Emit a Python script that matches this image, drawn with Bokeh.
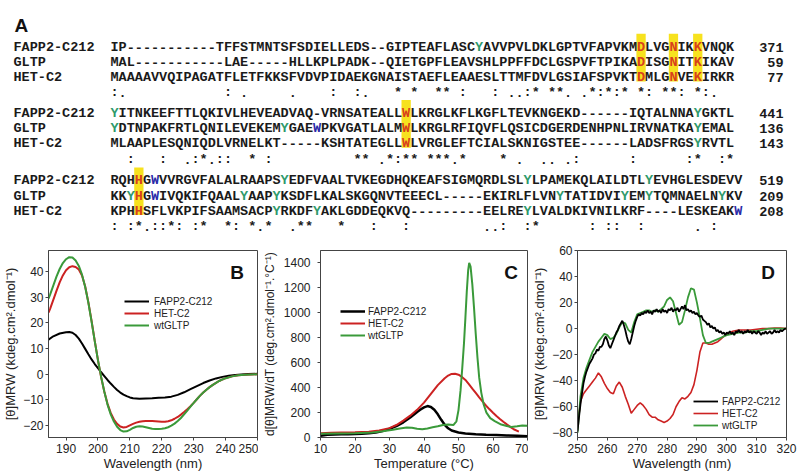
import numpy as np
from bokeh.plotting import figure
from bokeh.models import Range1d, Label, Legend, LegendItem, ColumnDataSource, FixedTicker
from bokeh.layouts import column, row
from bokeh.embed import file_html
from bokeh.resources import INLINE
from bokeh.core.properties import value

# ---------------- Panel A: sequence alignment ----------------
seq_names = ["FAPP2-C212", "GLTP", "HET-C2"]
block1 = [
    "IP" + "-" * 11 + "TFFSTMNTSFSDIELLEDS" + "--" + "GIPTEAFLASCYAVVPVLDKLGPTVFAPVKMDLVGNIKKVNQK",
    "MAL" + "-" * 11 + "LAE" + "-" * 5 + "HLLKPLPADK" + "--" + "QIETGPFLEAVSHLPPFFDCLGSPVFTPIKADISGNITKIKAV",
    "MAAAAVVQIPAGATFLETFKKSFVDVPIDAEKGNAISTAEFLEAAESLTTMFDVLGSIAFSPVKTDMLGNVEKIRKR",
]
block1_end = [371, 59, 77]
block2 = [
    "YITNKEEFTTLQKIVLHEVEADVAQ" + "-" + "VRNSATEALLWLKRGLKFLKGFLTEVKNGEKD" + "-" * 6 + "IQTALNNAYGKTL",
    "YDTNPAKFRTLQNILEVEKEMYGAEWPKVGATLALMWLKRGLRFIQVFLQSICDGERDENHPNLIRVNATKAYEMAL",
    "MLAAPLESQNIQDLVRNELKT" + "-" * 5 + "KSHTATEGLLWLVRGLEFTCIALSKNIGSTEE" + "-" * 6 + "LADSFRGSYRVTL",
]
block2_end = [441, 136, 143]
block3 = [
    "RQHHGWVVRGVFALALRAAPSYEDFVAALTVKEGDHQKEAFSIGMQRDLSLYLPAMEKQLAILDTLYEVHGLESDEVV",
    "KKYHGWIVQKIFQAALYAAPYKSDFLKALSKGQNVTEEECL" + "-" * 5 + "EKIRLFLVNYTATIDVIYEMYTQMNAELNYKV",
    "KPHHSFLVKPIFSAAMSACPYRKDFYAKLGDDEQKVQ" + "-" * 9 + "EELREYLVALDKIVNILKRF" + "-" * 4 + "LESKEAKW",
]
block3_end = [519, 209, 208]

# highlighted columns (yellow boxes) and coloured residues (row, column) per block
hl_cols = [[65, 69, 72], [36], [3]]
green_res = [[(0, 45)],
             [(0, 0), (0, 72), (1, 0), (1, 21), (1, 72), (2, 72)],
             [(0, 21), (0, 51), (0, 66), (1, 2), (1, 16), (1, 20), (1, 55), (1, 63), (1, 66),
              (1, 75), (2, 20), (2, 25), (2, 51)]]
blue_res = [[], [(1, 25)], [(0, 5), (1, 5), (2, 77)]]

# ---------------- Panel B: far-UV CD ----------------
b_wl_fapp2 = [184.5, 186, 188, 190,
              191, 192, 193, 194, 195, 196, 197, 198, 199, 200, 201, 202, 203, 204, 205, 206, 207, 208,
              209, 210, 211, 212, 213,
              215, 217, 219, 221, 223, 225, 227, 229, 231, 233, 235, 237, 239, 241, 243, 245, 247,
              250]
b_fapp2 = [13.5, 14.8, 15.9, 16.4,
           16.5, 16.2, 15.3, 13.9, 12.0, 9.9, 7.8, 5.8, 4.0, 2.4, 0.8, -0.7, -2.2, -3.6, -4.9, -6.1, -7.1, -7.9,
           -8.5, -9.0, -9.3, -9.4, -9.5,
           -9.4, -9.3, -9.1, -9.0, -8.7, -8.0, -7.0, -5.8, -4.6, -3.4, -2.4, -1.6, -1.0, -0.6, -0.3, -0.1, 0.1,
           0.2]
b_wl = [184.5, 185, 186, 187, 188, 189, 190, 191, 192, 193,
        194, 195, 196, 197, 198, 199, 200, 201, 202, 203,
        204, 205, 206, 207, 208, 209, 210, 211, 212, 213,
        214, 215, 216, 217, 218, 219, 220, 221, 222, 223,
        224, 225, 226, 227, 228, 229, 230, 231, 232, 233,
        234, 235, 236, 237, 238, 239, 240, 242, 244, 246,
        248, 250]
b_hetc2 = [24, 25.5, 29, 32.5, 35.8, 38.5, 40.5, 41.7, 42.1, 41.8,
           40.8, 38.5, 34.2, 28, 20.8, 13, 5.5, -1.2, -6.8, -11.5,
           -15, -17.6, -19.3, -20.3, -20.7, -20.5, -19.9, -19.3, -18.8, -18.5,
           -18.3, -18.2, -18.2, -18.2, -18.3, -18.4, -18.5, -18.5, -18.3, -17.9,
           -17.3, -16.6, -15.7, -14.7, -13.6, -12.4, -11.1, -9.7, -8.3, -7.1,
           -6.0, -5.0, -4.1, -3.3, -2.6, -2.0, -1.5, -0.8, -0.4, -0.2,
           -0.1, 0]
b_gltp = [29.5, 31, 34.5, 38, 41, 43.3, 44.8, 45.6, 45.5, 44.3,
          42.2, 38.8, 34, 27.8, 20.5, 12.8, 5.5, -1, -6.8, -11.8,
          -15.6, -18.4, -20.4, -21.7, -22.3, -22.2, -21.6, -20.9, -20.4, -20.2,
          -20.3, -20.6, -20.9, -21.2, -21.3, -21.3, -21.2, -21.0, -20.6, -20.0,
          -19.2, -18.2, -17.0, -15.6, -14.1, -12.6, -11.1, -9.7, -8.3, -7.1,
          -6.0, -5.0, -4.1, -3.3, -2.6, -2.0, -1.5, -0.8, -0.4, -0.2,
          -0.1, 0]

# ---------------- Panel C: thermal unfolding derivative ----------------
c_t_fapp2 = [10, 12, 14, 16, 18, 20, 22, 24, 26, 28, 30, 32, 34, 36,
             37, 38, 39, 40, 41, 42, 43, 44, 45, 46, 47, 48,
             50, 52, 55, 58, 61, 64, 67, 70]
c_fapp2 = [14, 22, 25, 26, 27, 28, 30, 34, 40, 52, 70, 92, 122, 160,
           182, 205, 225, 242, 252, 245, 222, 186, 142, 102, 74, 56,
           40, 33, 27, 23, 20, 17, 14, 10]
c_t_hetc2 = [10, 13, 16, 20, 24, 27,
             30, 32, 34, 36, 38, 40, 42, 44, 46,
             47, 48, 49, 50, 51, 52, 53, 54, 55, 56, 57, 58, 59, 60, 61, 62, 63, 64, 65, 66,
             67.5]
c_hetc2 = [35, 38, 40, 42, 46, 56,
           75, 100, 135, 175, 222, 280, 350, 420, 475,
           497, 510, 511, 504, 486, 462, 428, 392, 357, 322, 288, 255, 226, 198, 172, 148, 126, 105, 85, 66,
           47]
c_t_gltp = [10, 15, 20, 25, 28, 31, 33, 35, 36.5, 38,
            39.5, 41, 42.5, 44, 45.5, 47, 48.5, 49.4, 50.0, 50.6,
            51.1, 51.6, 52.0, 52.4, 52.8, 53.1, 53.5, 54.0, 54.5, 55.0,
            55.5, 56.0, 56.6, 57.3, 58.1, 59.2, 60.5, 62.4, 64, 65.3,
            67, 68.5, 70]
c_gltp = [30, 33, 35, 40, 50, 62, 72, 80, 78, 70,
          66, 72, 82, 90, 100, 105, 100, 130, 220, 380,
          560, 760, 960, 1170, 1340, 1400, 1370, 1230, 1040, 830,
          640, 480, 360, 265, 200, 155, 131, 104, 92, 85,
          90, 96, 95]

# ---------------- Panel D: near-UV CD ----------------
d_wl_fapp2 = np.arange(250, 320.25, 0.5)
d_fapp2 = [-79, -68, -58, -50, -42, -37, -33, -30, -27, -25,
           -23, -20, -19, -16, -17, -14, -14, -12, -8, -6,
           -9, -13, -15, -12, -9, -6, -3, -1, 2, 4,
           6, 3, -1, -6, -10, -12, -8, -3, 2, 6,
           9, 11, 10, 12, 11, 13, 12, 14, 12, 13,
           11, 14, 13, 15, 13, 14, 12, 15, 13, 14,
           12, 15, 14, 16, 13, 15, 14, 16, 13, 15,
           17, 15, 18, 14, 15, 13, 14, 12, 13, 11,
           12, 10, 9, 10, 7, 6, 5, 3, 4, 1,
           2, 0, 1, -2, -1, -3, -2, -4, -3, -5,
           -3, -4, -2, -4, -3, -5, -2, -3, -1, -3,
           -2, -4, -2, -3, -1, -3, -2, -4, -2, -3,
           -4, -2, -3, -5, -3, -4, -2, -4, -3, -2,
           -4, -3, -1, -3, -2, -3, -1, -2, -1, 0,
           0]
d_wl_hetc2 = [250, 251, 252, 253, 254, 255, 256, 257, 258, 259,
              260, 261, 262, 263, 264, 265, 266, 267, 268, 269,
              270, 271, 272, 273, 274, 275, 276, 277, 278, 279,
              280, 281, 282, 283, 284, 285, 286, 287, 288, 289,
              290, 291, 292, 293, 294, 295, 296, 297, 298, 299,
              300, 301, 302,
              304, 306, 308, 310, 312, 314, 316, 318, 320]
d_hetc2 = [-75, -56, -50, -47, -44, -41, -38, -34, -37, -42,
           -46, -49, -50, -44, -41, -45, -52, -58, -65, -62,
           -59, -57, -59, -62, -66, -68, -68, -70, -71, -72,
           -71, -69, -66, -60, -56, -53, -54, -52, -49, -43,
           -32, -18, -11, -11, -12, -12, -11, -10, -8, -6,
           -4, -3, -2,
           -1, -1, -1, -0.5, 0, 0, 0.5, 0.5, 0]
d_wl_gltp = [250, 251, 252, 253, 254, 255, 256, 257, 258, 259,
             260, 261, 262, 263, 264, 265, 266, 267, 268, 269,
             270, 271, 272, 273, 274, 275, 276, 277, 278, 279,
             280, 281, 282, 283, 284, 285, 286, 287, 288, 289,
             290, 291, 292, 293, 294, 295, 296, 297, 298, 299,
             300, 302, 304, 306, 308, 310, 312, 314, 316, 318, 320]
d_gltp = [-80, -52, -38, -30, -24, -18, -14, -10, -7, -4,
          -5, -8, -7, -4, 1, 5, 4, -1, -3, 5,
          11, 12, 13, 14, 14, 13, 14, 13, 15, 17,
          22, 24, 21, 12, 3, 5, 14, 24, 31, 30,
          20, 8, -5, -11, -11, -10, -9, -8, -7, -6,
          -5, -4, -3, -3, -2, -2, -1, 0, 0, 0, 0]

series_labels = ["FAPP2-C212", "HET-C2", "wtGLTP"]
BLACK, RED, GREEN = "#000000", "#cc2222", "#3a9a3a"
TXT = "#1a1a1a"

# =========================================================
# Panel A figure (data coordinates == page pixels)
# =========================================================
X0, CW, LH = 110.0, 8.1, 15.3
block_base = [46.5, 112.8, 180.2]
blocks = [block1, block2, block3]
ends = [block1_end, block2_end, block3_end]

strong = ["STA", "NEQK", "NHQK", "NDEQ", "QHRK", "MILV", "MILF", "HY", "FYW"]
weak = ["CSA", "ATV", "SAG", "STNK", "STPA", "SGND", "SNDEQK", "NDEQHK", "NEQHRK", "FVLIM", "HFY"]


def conservation(rows):
    out = []
    for col in zip(*rows):
        s = set(col)
        if "-" in s:
            out.append(" ")
        elif len(s) == 1:
            out.append("*")
        elif any(s <= set(g) for g in strong):
            out.append(":")
        elif any(s <= set(g) for g in weak):
            out.append(".")
        else:
            out.append(" ")
    return "".join(out)


TOP_H = 240
top = figure(width=800, height=TOP_H, x_range=Range1d(0, 800), y_range=Range1d(TOP_H, 0),
             toolbar_location=None, output_backend="svg", min_border=0,
             x_axis_location=None, y_axis_location=None)
top.grid.visible = False
top.outline_line_color = None
top.background_fill_color = "white"
top.border_fill_color = "white"

xs, ys, ts, cs = [], [], [], []
hl_l, hl_r, hl_t, hl_b = [], [], [], []
nx, ny, nt = [], [], []
ex, ey, et = [], [], []
for b, rows in enumerate(blocks):
    base = block_base[b]
    for r, s in enumerate(rows):
        for i, ch in enumerate(s):
            color = TXT
            if i in hl_cols[b]:
                color = "#d8401c"
            elif (r, i) in green_res[b]:
                color = "#2f9a6c"
            elif (r, i) in blue_res[b]:
                color = "#2a2aa8"
            xs.append(X0 + (i + 0.5) * CW)
            ys.append(base + r * LH)
            ts.append(ch)
            cs.append(color)
        nx.append(13)
        ny.append(base + r * LH)
        nt.append(seq_names[r])
        ex.append(783)
        ey.append(base + r * LH)
        et.append(str(ends[b][r]))
    cons = conservation(rows)
    for i, ch in enumerate(cons):
        if ch != " ":
            xs.append(X0 + (i + 0.5) * CW)
            ys.append(base + 3 * LH)
            ts.append(ch)
            cs.append(TXT)
    for i in hl_cols[b]:
        hl_l.append(X0 + i * CW - 0.6)
        hl_r.append(X0 + (i + 1) * CW + 0.6)
        hl_t.append(base - 13.2)
        hl_b.append(base + 2 * LH + 3.8)

top.quad(left=hl_l, right=hl_r, top=hl_t, bottom=hl_b, fill_color="#f7e21e", line_color=None)
src = ColumnDataSource(dict(x=xs, y=ys, t=ts, c=cs))
top.text(x="x", y="y", text="t", text_color="c", source=src, text_font=value("Liberation Mono"),
         text_font_style="bold", text_font_size=value("13.5px"), text_align="center",
         text_baseline="alphabetic")
top.text(x=nx, y=ny, text=nt, text_color=TXT, text_font=value("Liberation Mono"),
         text_font_style="bold", text_font_size=value("13.5px"), text_align="left",
         text_baseline="alphabetic")
top.text(x=ex, y=ey, text=et, text_color=TXT, text_font=value("Liberation Mono"),
         text_font_style="bold", text_font_size=value("13.5px"), text_align="right",
         text_baseline="alphabetic")
top.add_layout(Label(x=14, y=25, text="A", text_font="Liberation Sans", text_font_style="bold",
                     text_font_size="19px", text_align="left", text_baseline="alphabetic",
                     text_color="#111111"))

# =========================================================
# Panels B, C, D
# =========================================================
FT, FB = 250, 437
BOT_H = 235


def make_panel(width, bl, br, FL, FR, xr, yr, xt, yt, xlabel, ylabel, ylab_size, ylab_standoff,
               ytick_standoff=2):
    p = figure(width=width, height=BOT_H, x_range=Range1d(*xr), y_range=Range1d(*yr),
               toolbar_location=None, output_backend="svg",
               min_border_left=bl, min_border_right=br, min_border_top=FT - TOP_H,
               min_border_bottom=TOP_H + BOT_H - FB)
    p.grid.visible = False
    p.background_fill_color = "white"
    p.border_fill_color = "white"
    p.outline_line_color = "#444444"
    p.outline_line_width = 1
    p.xaxis.ticker = FixedTicker(ticks=xt)
    p.yaxis.ticker = FixedTicker(ticks=yt)
    p.axis.major_tick_out = 3
    p.axis.major_tick_in = 0
    p.axis.minor_tick_out = 0
    p.axis.minor_tick_in = 0
    p.axis.axis_line_color = "#444444"
    p.axis.major_tick_line_color = "#444444"
    p.axis.major_label_text_font = "Liberation Sans"
    p.axis.major_label_text_font_size = "12px"
    p.axis.major_label_text_color = "#222222"
    p.xaxis.major_label_standoff = 3
    p.yaxis.major_label_standoff = ytick_standoff
    p.xaxis.axis_label = xlabel
    p.yaxis.axis_label = ylabel
    p.axis.axis_label_text_font = "Liberation Sans"
    p.axis.axis_label_text_font_style = "normal"
    p.axis.axis_label_text_color = "#222222"
    p.xaxis.axis_label_text_font_size = "13px"
    p.yaxis.axis_label_text_font_size = ylab_size
    p.xaxis.axis_label_standoff = 0
    p.yaxis.axis_label_standoff = ylab_standoff
    g = dict(FL=FL, FR=FR, xr=xr, yr=yr)
    return p, g


def dx(g, px):
    return g["xr"][0] + (px - g["FL"]) / (g["FR"] - g["FL"]) * (g["xr"][1] - g["xr"][0])


def dy(g, py):
    return g["yr"][0] + (FB - py) / (FB - FT) * (g["yr"][1] - g["yr"][0])


def add_letter(p, g, px, py, text):
    p.add_layout(Label(x=dx(g, px), y=dy(g, py), text=text, text_align="center",
                       text_baseline="alphabetic", text_font="Liberation Sans",
                       text_font_style="bold", text_font_size="19px", text_color="#111111"))


def add_legend(p, rends, loc, standoff):
    leg = Legend(items=[LegendItem(label=l, renderers=[r]) for l, r in zip(series_labels, rends)],
                 location=loc, glyph_width=25, glyph_height=12, label_height=12,
                 label_standoff=standoff, spacing=0, padding=0, margin=0,
                 border_line_alpha=0, background_fill_alpha=0,
                 label_text_font="Liberation Sans", label_text_font_size="10px",
                 label_text_color="#222222")
    p.add_layout(leg)


# ---- B ----
pB, gB = make_panel(258, 47, 1, 47, 257, (184.5, 250), (-24.6, 48.2),
                    [190, 200, 210, 220, 230, 240, 250], [-20, -10, 0, 10, 20, 30, 40],
                    "Wavelength (nm)", "[θ]MRW (kdeg.cm².dmol⁻¹)", "13px", 2)
rB0 = pB.line(b_wl_fapp2, b_fapp2, line_color=BLACK, line_width=2)
rB1 = pB.line(b_wl, b_hetc2, line_color=RED, line_width=2)
rB2 = pB.line(b_wl, b_gltp, line_color=GREEN, line_width=2)
add_legend(pB, [rB0, rB1, rB2], (76, 106), 5)
add_letter(pB, gB, 236.5, 272, "B")

# ---- C ----
pC, gC = make_panel(270, 62, 1, 320, 527, (10, 70), (0, 1500),
                    [10, 20, 30, 40, 50, 60, 70], [0, 200, 400, 600, 800, 1000, 1200, 1400],
                    "Temperature (°C)", "d[θ]MRW/dT (deg.cm².dmol⁻¹.°C⁻¹)", "12px", 4,
                    ytick_standoff=7)
rC0 = pC.line(c_t_fapp2, c_fapp2, line_color=BLACK, line_width=2.5)
rC1 = pC.line(c_t_hetc2, c_hetc2, line_color=RED, line_width=2)
rC2 = pC.line(c_t_gltp, c_gltp, line_color=GREEN, line_width=2)
add_legend(pC, [rC0, rC1, rC2], (20, 96), 3)
add_letter(pC, gC, 510.5, 272, "C")

# ---- D ----
pD, gD = make_panel(272, 49, 14, 577, 786, (250, 320), (-83.6, 60),
                    [250, 260, 270, 280, 290, 300, 310, 320], [-80, -60, -40, -20, 0, 20, 40, 60],
                    "Wavelength (nm)", "[θ]MRW (kdeg.cm².dmol⁻¹)", "13px", 2)
rD1 = pD.line(d_wl_hetc2, d_hetc2, line_color=RED, line_width=1.6)
rD2 = pD.line(d_wl_gltp, d_gltp, line_color=GREEN, line_width=1.8)
rD0 = pD.line(d_wl_fapp2, d_fapp2, line_color=BLACK, line_width=1.8)
add_legend(pD, [rD0, rD1, rD2], (116, 6), 4)
add_letter(pD, gD, 767.5, 272, "D")

layout = column(top, row(pB, pC, pD, spacing=0), spacing=0)
open("out.html", "w").write(file_html(layout, INLINE))
